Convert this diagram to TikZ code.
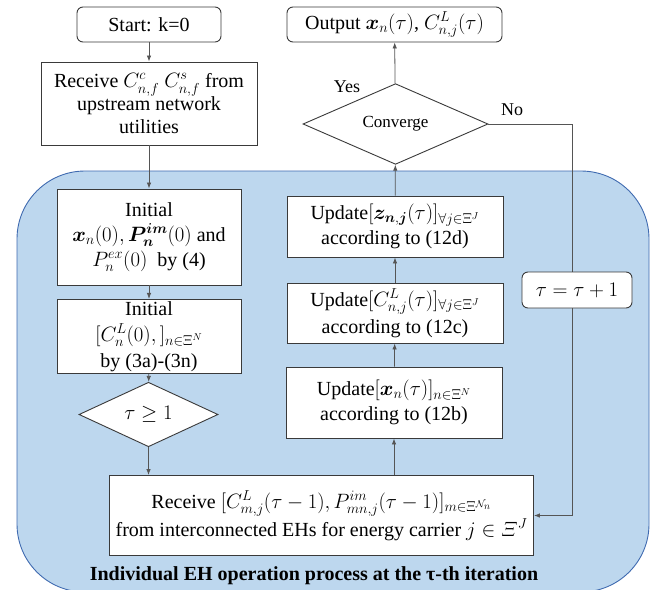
\documentclass[tikz,border=0pt]{standalone}
\usepackage{amsmath,amssymb}
\usepackage{bm}
\usepackage{fontspec}
\setmainfont{Liberation Serif}
\usetikzlibrary{shapes.geometric,arrows.meta}

\definecolor{regionfill}{HTML}{BDD7EE}
\definecolor{regionline}{HTML}{3F6AB0}
\definecolor{boxline}{HTML}{3A3A3A}
\definecolor{linkline}{HTML}{555555}

\tikzset{
  stepbox/.style={draw=boxline, line width=0.9pt, fill=white, inner sep=2pt,
    align=center, font=\fontsize{20}{23}\selectfont},
  termbox/.style={stepbox, rounded corners=6pt},
  decision/.style={draw=boxline, line width=0.9pt, fill=white, shape=diamond,
    inner sep=0pt, align=center, font=\fontsize{17}{20}\selectfont},
  link/.style={draw=linkline, line width=0.8pt},
  flow/.style={link, -{Latex[length=6pt,width=4.5pt]}},
  tag/.style={font=\fontsize{18}{22}\selectfont}
}

\begin{document}
\begin{tikzpicture}[x=1pt,y=-1pt]
\useasboundingbox (0,0) rectangle (666,589);

% process region
\path[fill=regionfill, draw=regionline, line width=0.9pt, rounded corners=68pt]
  (17,171) rectangle (649,592);

% left column
\node[termbox, minimum width=144pt, minimum height=35pt] (start) at (149,24.5) {Start: k=0};
\node[stepbox, minimum width=216pt, minimum height=83pt] (recv) at (149,103.5)
  {Receive $C_{n,f}^{c}\ C_{n,f}^{s}$ from\\ upstream network\\ utilities};
\node[stepbox, minimum width=184pt, minimum height=96pt, font=\fontsize{20}{25}\selectfont] (init1) at (149,237)
  {Initial\\ $\bm{x}_n(0),\bm{P}_{\bm{n}}^{\bm{im}}(0)$ and\\ $P_n^{ex}(0)$\ \ by (4)};
\node[stepbox, minimum width=184pt, minimum height=73pt, font=\fontsize{20}{26}\selectfont] (init2) at (149,336.5)
  {Initial\\ $[C_n^{L}(0),]_{n\in\Xi^{N}}$\\ by (3a)-(3n)};
\node[decision, minimum width=139pt, minimum height=45pt, font=\fontsize{20}{22}\selectfont] (first) at (148.5,414.5)
  {$\tau \geq 1$};

% right column
\node[termbox, minimum width=215pt, minimum height=35pt] (out) at (394.5,24.5)
  {Output $\bm{x}_n(\tau)$, $C_{n,j}^{L}(\tau)$};
\node[decision, minimum width=185pt, minimum height=50pt] (conv) at (395.5,124) {Converge};
\node[stepbox, minimum width=216pt, minimum height=61pt, font=\fontsize{20}{25}\selectfont] (upz) at (395,226.5)
  {Update$[\bm{z}_{\bm{n},\bm{j}}(\tau)]_{\forall j\in\Xi^{J}}$\\ according to (12d)};
\node[stepbox, minimum width=216pt, minimum height=60pt, font=\fontsize{20}{27}\selectfont] (upc) at (395,313)
  {Update$[C_{n,j}^{L}(\tau)]_{\forall j\in\Xi^{J}}$\\ according to (12c)};
\node[stepbox, minimum width=216pt, minimum height=71pt, font=\fontsize{20}{25}\selectfont] (upx) at (394,402.5)
  {Update$[\bm{x}_n(\tau)]_{n\in\Xi^{N}}$\\ according to (12b)};

% exchange with neighbouring hubs
\node[stepbox, minimum width=424pt, minimum height=80pt, font=\fontsize{20}{28}\selectfont] (recv2) at (321.5,515.5)
  {Receive $[C_{m,j}^{L}(\tau-1),P_{mn,j}^{im}(\tau-1)]_{m\in\Xi^{\mathcal{N}_n}}$\\
   from interconnected EHs for energy carrier $j\in\varXi^{J}$};

% iteration counter on the return path
\coordinate (back) at (572,124);
\draw[link] (conv.east) -- (back) -- (back |- 572,272);
\node[termbox, minimum width=110pt, minimum height=36pt] (inc) at (577,290)
  {$\tau=\tau+1$};
\draw[flow] (inc.south -| back) |- (recv2.east);

% main flow
\draw[flow] (start) -- (recv);
\draw[flow] (recv) -- (init1);
\draw[flow] (init1) -- (init2);
\draw[flow] (init2) -- (first);
\draw[flow] (first.south) -- (first.south |- recv2.north);
\draw[flow] (upx.south |- recv2.north) -- (upx.south);
\draw[flow] (upx) -- (upc);
\draw[flow] (upc) -- (upz);
\draw[flow] (upz) -- (conv);
\draw[flow] (conv) -- (out);

\node[tag] (yes) at (347,87) {Yes};
\node[tag] (no) at (512,110) {No};

\node[font=\bfseries\fontsize{20}{22}\selectfont] (caption) at (314,576)
  {Individual EH operation process at the τ-th iteration};
\end{tikzpicture}
\end{document}
